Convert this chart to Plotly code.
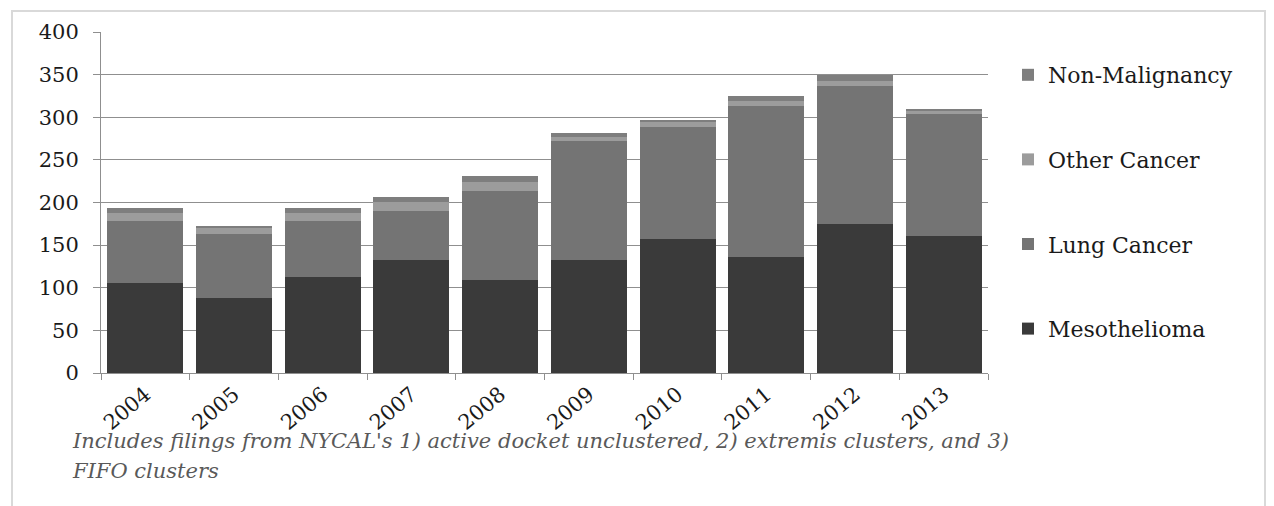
import plotly.graph_objects as go

# Filings per year, by disease category
years = ["2004", "2005", "2006", "2007", "2008", "2009", "2010", "2011", "2012", "2013"]
mesothelioma = [105, 88, 113, 132, 109, 132, 157, 136, 175, 161]
lung_cancer = [73, 75, 65, 58, 105, 140, 132, 177, 162, 143]
other_cancer = [10, 7, 10, 11, 10, 5, 5, 6, 6, 3]
non_malignancy = [5, 3, 5, 6, 7, 5, 3, 6, 7, 3]

y_ticks = [0, 50, 100, 150, 200, 250, 300, 350, 400]

caption_1 = "Includes filings from NYCAL's 1) active docket unclustered, 2) extremis clusters, and 3)"
caption_2 = "FIFO clusters"

SERIF = "DejaVu Serif"
GRID = "#8f8f8f"

# (name, values, colour, legend rank: top of legend = lowest rank)
series = [
    ("Mesothelioma", mesothelioma, "#3a3a3a", 4),
    ("Lung Cancer", lung_cancer, "#747474", 3),
    ("Other Cancer", other_cancer, "#9c9c9c", 2),
    ("Non-Malignancy", non_malignancy, "#7e7e7e", 1),
]

fig = go.Figure()
for name, vals, color, rank in series:
    fig.add_trace(go.Bar(
        x=years, y=vals, name=name, legendgroup=name, legendrank=rank,
        marker=dict(color=color, line=dict(width=0)),
    ))

W, H = 1274, 506
L, R, T, B = 101, 286, 32, 133
pw, ph = W - L - R, H - T - B


def px_x(x):
    return (x - L) / pw


def px_y(y):
    return (H - B - y) / ph


fig.update_layout(
    width=W, height=H,
    margin=dict(l=L, r=R, t=T, b=B, pad=0),
    barmode="stack",
    bargap=0.143,
    paper_bgcolor="white",
    plot_bgcolor="white",
    font=dict(family=SERIF, size=20, color="#1a1a1a"),
    legend=dict(
        x=px_x(1008), xanchor="left",
        y=px_y(54), yanchor="top",
        traceorder="grouped",
        tracegroupgap=53,
        font=dict(family=SERIF, size=22, color="#1a1a1a"),
        itemwidth=30,
        bgcolor="rgba(0,0,0,0)",
    ),
    xaxis=dict(
        type="category",
        tickangle=-40,
        tickson="boundaries",
        ticks="outside", ticklen=6, tickcolor=GRID,
        showline=True, linecolor=GRID, linewidth=1,
        showgrid=False,
        tickfont=dict(family=SERIF, size=21),
    ),
    yaxis=dict(
        range=[0, 400],
        tickvals=y_ticks,
        ticks="outside", ticklen=7, tickcolor=GRID,
        showline=True, linecolor=GRID, linewidth=1,
        showgrid=True, gridcolor=GRID, gridwidth=1,
        zeroline=False,
        ticklabelstandoff=10,
        tickfont=dict(family=SERIF, size=21),
    ),
    shapes=[
        dict(type="rect", xref="paper", yref="paper",
             x0=px_x(12), x1=px_x(1265), y0=px_y(11), y1=px_y(530),
             line=dict(color="#d9d9d9", width=2), fillcolor="rgba(0,0,0,0)",
             layer="below"),
    ],
    annotations=[
        dict(text=caption_1, xref="paper", yref="paper",
             x=px_x(70), y=px_y(427), xanchor="left", yanchor="top",
             showarrow=False, align="left",
             font=dict(family=SERIF, size=21, color="#595959", style="italic")),
        dict(text=caption_2, xref="paper", yref="paper",
             x=px_x(70), y=px_y(457), xanchor="left", yanchor="top",
             showarrow=False, align="left",
             font=dict(family=SERIF, size=21, color="#595959", style="italic")),
    ],
)

fig.write_html("out.html")
